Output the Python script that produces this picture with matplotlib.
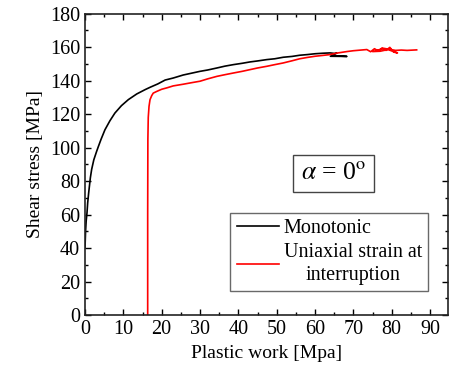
import matplotlib
matplotlib.use("Agg")
import matplotlib.pyplot as plt
from matplotlib.ticker import MultipleLocator

plt.rcParams['font.family'] = ['Liberation Serif', 'DejaVu Serif']
plt.rcParams['mathtext.fontset'] = 'stix'

# Monotonic curve (plastic work, shear stress)
mono_x = [0.0, 0.15, 0.3, 0.52, 0.7, 0.96, 1.4, 1.74, 2.3, 3.0, 3.5, 4.2, 5.2, 6.5,
          7.8, 9.5, 11.3, 13.5, 15.7, 17.0, 19.0, 20.9, 23.0, 25.6, 28.0, 30.0,
          32.0, 34.4, 36.5, 38.7, 41.0, 43.0, 45.0, 47.4, 49.5, 51.7, 54.0, 56.0,
          58.0, 60.0, 62.0, 63.9, 65.0, 65.7, 64.0, 68.3, 64.5]
mono_y = [40.0, 50.0, 56.0, 61.0, 67.0, 73.0, 82.0, 87.0, 92.7, 97.5, 100.7, 105.0,
          110.6, 116.0, 120.6, 125.0, 128.6, 132.0, 134.6, 136.0, 138.0, 140.3,
          141.5, 143.3, 144.5, 145.5, 146.3, 147.5, 148.6, 149.5, 150.3, 151.1,
          151.7, 152.5, 153.0, 153.9, 154.4, 155.1, 155.5, 156.0, 156.3, 156.5,
          156.2, 156.4, 154.5, 154.4, 154.8]

# Uniaxial strain at interruption
red_x = [16.35, 16.35, 16.4, 16.5, 16.7, 16.96, 17.4, 17.8, 18.7, 20.0, 21.3, 23.0,
         25.6, 28.0, 30.0, 32.0, 34.4, 36.5, 38.7, 41.0, 43.0, 45.0, 47.4, 49.5,
         51.7, 54.0, 56.0, 58.0, 60.0, 62.0, 63.9, 66.0, 68.3, 70.0, 73.5, 74.5,
         75.5, 76.5, 77.5, 78.5, 79.5, 80.5, 81.5, 79.0, 77.0, 75.0, 78.0, 81.0,
         82.5, 84.0, 86.5]
red_y = [0.0, 60.0, 105.0, 118.0, 124.6, 128.6, 131.0, 132.5, 133.5, 134.8, 135.6,
         136.8, 137.8, 138.8, 139.6, 141.0, 142.5, 143.5, 144.5, 145.5, 146.5,
         147.5, 148.5, 149.5, 150.5, 151.8, 153.0, 153.8, 154.5, 155.0, 155.5,
         156.5, 157.3, 157.8, 158.5, 157.2, 159.0, 157.6, 159.5, 158.0, 159.8,
         157.0, 156.5, 158.5, 157.5, 157.3, 159.2, 158.0, 158.2, 158.0, 158.3]

fig = plt.figure(figsize=(4.49, 3.76), dpi=100)
ax = fig.add_axes([0.1893, 0.162, 0.8087, 0.802])

ax.plot(mono_x, mono_y, color='black', lw=1.2, label='Monotonic')
ax.plot(red_x, red_y, color='red', lw=1.2, label='Uniaxial strain at\ninterruption')

ax.set_xlim(0, 94.7)
ax.set_ylim(0, 180)
ax.xaxis.set_major_locator(MultipleLocator(10))
ax.xaxis.set_minor_locator(MultipleLocator(5))
ax.yaxis.set_major_locator(MultipleLocator(20))
ax.yaxis.set_minor_locator(MultipleLocator(10))
ax.tick_params(which='both', direction='in', top=True, right=True, labelsize=14.5, width=1.0)
ax.tick_params(which='major', length=4)
ax.tick_params(which='minor', length=2)
for s in ax.spines.values():
    s.set_linewidth(1.2)
    s.set_color('#222222')

ax.set_xlabel('Plastic work [Mpa]', fontsize=14)
ax.set_ylabel('Shear stress [MPa]', fontsize=14)

ax.text(0.685, 0.47, r'$\alpha$ = 0$^{\mathrm{o}}$', transform=ax.transAxes,
        fontsize=18.5, ha='center', va='center',
        bbox=dict(boxstyle='square,pad=0.3', fc='white', ec='#444444', lw=1.0))

leg = ax.legend(loc='lower right', bbox_to_anchor=(0.945, 0.08), fontsize=14.5,
                frameon=True, fancybox=False, edgecolor='#444444',
                handlelength=2.1, handletextpad=0.25, borderpad=0.3, labelspacing=0.25,
                borderaxespad=0)
leg.get_frame().set_linewidth(1.0)
for t in leg.get_texts():
    t.set_multialignment('center')
    t.set_linespacing(1.3)

fig.savefig('out.png', dpi=100)
